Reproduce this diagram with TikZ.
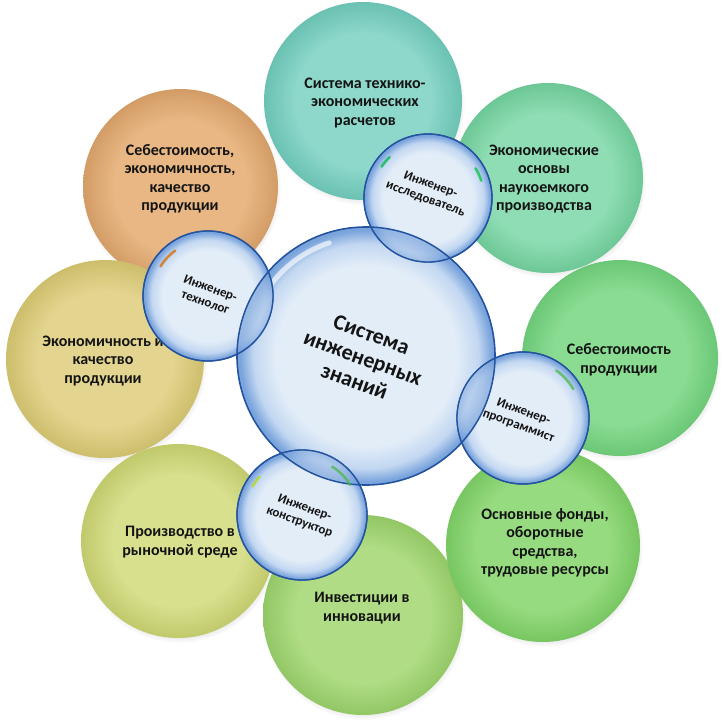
\documentclass[tikz,border=0pt]{standalone}
\usepackage{fontspec}
\setmainfont{Carlito}
\usetikzlibrary{shadows,fadings}

\definecolor{rimA}{HTML}{8DD8CB}
\definecolor{rimB}{HTML}{6BC2B3}
\definecolor{bubIn}{HTML}{E3EDF8}
\definecolor{bubMid}{HTML}{C2D7F1}
\definecolor{bubOut}{HTML}{7AA4DC}
\definecolor{bubEdge}{HTML}{24539F}
\definecolor{lensC}{HTML}{5F8FD3}

\pgfdeclareradialshading[rimA,rimB]{rimshade}{\pgfpoint{0bp}{0bp}}{color(0bp)=(rimA); color(17bp)=(rimA); color(25bp)=(rimB); color(50bp)=(rimB)}
\pgfdeclareradialshading{bubshade}{\pgfpoint{0bp}{0bp}}{color(0bp)=(bubIn); color(17.5bp)=(bubIn); color(21.8bp)=(bubMid); color(24.4bp)=(bubOut); color(25bp)=(bubOut); color(50bp)=(bubOut)}

\tikzset{
  outerc/.style={circle, inner sep=0pt, draw=none,
    circular drop shadow={shadow scale=1.02, shadow xshift=1pt, shadow yshift=-3pt, opacity=.35}},
  rim/.style 2 args={/utils/exec={\definecolor{rimA}{HTML}{#1}\definecolor{rimB}{HTML}{#2}}, shading=rimshade},
  otxt/.style={font=\bfseries\fontsize{16}{18.5}\selectfont, align=center, text=black!92},
  bub/.style={circle, inner sep=0pt, shading=bubshade, draw=bubEdge, line width=1.3pt},
  btxt/.style={font=\bfseries\fontsize{13}{15}\selectfont, align=center, text=black!92, rotate=-20},
  ctxt/.style={font=\bfseries\fontsize{22}{25}\selectfont, align=center, text=black!92, rotate=-20},
  streak/.style={line width=2.6pt, line cap=round, opacity=.75},
}

\begin{document}
\begin{tikzpicture}[x=1pt,y=-1pt]
\useasboundingbox (0,0) rectangle (725,726);
\fill[white] (0,0) rectangle (725,726);

% outer circles
\node[outerc, rim={E8B784}{D39C66}, minimum size=195pt] (c8) at (180.5,186.5) {};
\node[outerc, rim={8DD8CB}{6AC1B2}, minimum size=198pt] (c1) at (363,101) {};
\node[outerc, rim={8EDDB4}{6DC795}, minimum size=190pt] (c2) at (548,178) {};
\node[outerc, rim={8ADC93}{6BC776}, minimum size=196pt] (c3) at (620,358) {};
\node[outerc, rim={E3D58F}{CDBE6C}, minimum size=198pt] (c7) at (105,359) {};
\node[outerc, rim={D8DF8D}{C1C96C}, minimum size=194pt] (c6) at (178,541) {};
\node[outerc, rim={AFDC84}{92C765}, minimum size=200pt] (c5) at (363,615) {};
\node[outerc, rim={97DB80}{77C661}, minimum size=194pt] (c4) at (543,545) {};

\node[otxt] (t8) at (180,179) {Себестоимость,\\экономичность,\\качество\\продукции};
\node[otxt] (t1) at (365,103) {Система технико-\\экономических\\расчетов};
\node[otxt] (t2) at (544,179) {Экономические\\основы\\наукоемкого\\производства};
\node[otxt] (t3) at (619,360) {Себестоимость\\продукции};
\node[otxt] (t7) at (103,361) {Экономичность и\\качество\\продукции};
\node[otxt] (t6) at (180,542) {Производство в\\рыночной среде};
\node[otxt] (t5) at (362,608) {Инвестиции в\\инновации};
\node[otxt] (t4) at (545,543) {Основные фонды,\\оборотные\\средства,\\трудовые ресурсы};

% central circle
\node[bub, line width=1.6pt, minimum size=258pt] (b0) at (366,356) {};
\draw[white, line width=5pt, line cap=round, opacity=.65] (b0.center) ++(-150:119) arc[start angle=-150, end angle=-108, radius=119];

% small bubbles
\node[bub, minimum size=128pt] (b1) at (428,198) {};
\node[bub, minimum size=130pt] (b2) at (208,296) {};
\node[bub, minimum size=132pt] (b3) at (523,418) {};
\node[bub, minimum size=130pt] (b4) at (302,515) {};

% lenses
\foreach \b/\r in {b1/64,b2/65,b3/66,b4/65}{
  \begin{scope}
    \clip (\b.center) circle (\r);
    \fill[lensC, opacity=.25] (b0.center) circle (129);
    \shade[shading=bubshade, opacity=.55] (b0.center) circle (129);
    \draw[bubEdge, line width=1.5pt] (b0.center) circle (129);
  \end{scope}
  \draw[bubEdge, line width=1.3pt] (\b.center) circle (\r);
}

% reflections
\draw[streak, color=orange!85!black] (b2.center) ++(-148:56) arc[start angle=-148, end angle=-126, radius=56];
\draw[streak, color=green!45!teal] (b1.center) ++(-146:56) arc[start angle=-146, end angle=-133, radius=56];
\draw[streak, color=green!55!teal] (b1.center) ++(-32:56) arc[start angle=-32, end angle=-18, radius=56];
\draw[streak, color=green!60!black!70] (b3.center) ++(-55:58) arc[start angle=-55, end angle=-30, radius=58];
\draw[streak, color=yellow!70!green] (b4.center) ++(-150:57) arc[start angle=-150, end angle=-138, radius=57];
\draw[streak, color=green!60!black!70] (b4.center) ++(-58:57) arc[start angle=-58, end angle=-32, radius=57];

% texts
\node[ctxt] (tc) at (363,358) {Система\\инженерных\\знаний};
\node[btxt] (tb1) at (428,192) {Инженер-\\исследователь};
\node[btxt] (tb2) at (208,295) {Инженер-\\технолог};
\node[btxt] (tb3) at (521,419) {Инженер-\\программист};
\node[btxt] (tb4) at (302,515) {Инженер-\\конструктор};
\end{tikzpicture}
\end{document}
